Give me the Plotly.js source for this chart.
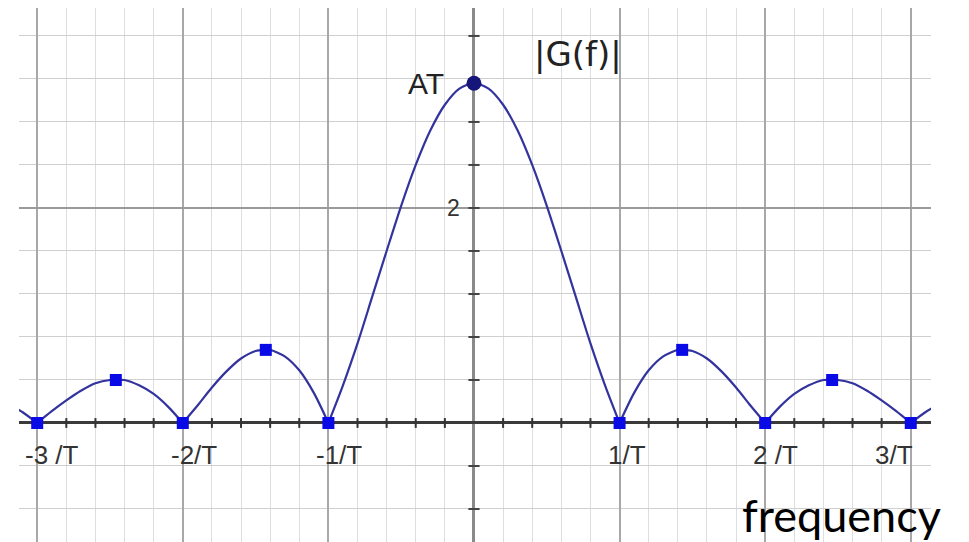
<!DOCTYPE html>
<html>
<head>
<meta charset="utf-8">
<script src="https://cdn.plot.ly/plotly-3.0.1.min.js"></script>
<style>
  html, body { margin: 0; padding: 0; background: #fff; }
  #graph { width: 969px; height: 542px; }
</style>
</head>
<body>
<div id="graph"></div>
<script>
// |G(f)|, lobe by lobe (null breaks the line at each zero)
const freq = [
  -3.15, -3.1, -3.0, null,
  -3.0, -2.9, -2.8, -2.7, -2.6, -2.5, -2.46, -2.4, -2.3, -2.2, -2.1, -2.0, null,
  -2.0, -1.9, -1.8, -1.7, -1.6, -1.5, -1.43, -1.4, -1.3, -1.2, -1.1, -1.0, null,
  -1.0, -0.9, -0.8, -0.7, -0.6, -0.5, -0.4, -0.3, -0.2, -0.1, 0, 0.1, 0.2, 0.3, 0.4, 0.5, 0.6, 0.7, 0.8, 0.9, 1.0, null,
  1.0, 1.1, 1.2, 1.3, 1.4, 1.43, 1.5, 1.6, 1.7, 1.8, 1.9, 2.0, null,
  2.0, 2.1, 2.2, 2.3, 2.4, 2.46, 2.5, 2.6, 2.7, 2.8, 2.9, 3.0, null,
  3.0, 3.1, 3.15
];
const gMag = [
  0.14, 0.10, 0, null,
  0, 0.11, 0.21, 0.30, 0.37, 0.40, 0.40, 0.40, 0.35, 0.27, 0.15, 0, null,
  0, 0.16, 0.33, 0.48, 0.60, 0.67, 0.68, 0.68, 0.62, 0.49, 0.28, 0, null,
  0, 0.35, 0.74, 1.17, 1.60, 2.02, 2.40, 2.72, 2.96, 3.11, 3.16, 3.11, 2.96, 2.72, 2.40, 2.02, 1.60, 1.17, 0.74, 0.35, 0, null,
  0, 0.28, 0.49, 0.62, 0.68, 0.68, 0.67, 0.60, 0.48, 0.33, 0.16, 0, null,
  0, 0.15, 0.27, 0.35, 0.40, 0.40, 0.40, 0.37, 0.30, 0.21, 0.11, 0, null,
  0, 0.10, 0.14
];

// square markers: zeros and side-lobe peaks
const markFreq = [-3, -2.46, -2, -1.43, -1, 1, 1.43, 2, 2.46, 3];
const markVal = [0, 0.40, 0, 0.68, 0, 0, 0.68, 0, 0.40, 0];

// main peak
const peakFreq = [0];
const peakVal = [3.16];

// x tick labels
const tickFreq = [-3, -2, -1, 1, 2, 3];
const tickText = ["-3 /T", "-2/T", "-1/T", "1/T", "2 /T", "3/T"];

// small tick marks sitting on the axes
let xMinor = [];
for (let i = -15; i <= 15; i++) { if (i !== 0) xMinor.push(i * 0.2); }
let yMinor = [];
for (let i = -2; i <= 9; i++) { if (i !== 0) yMinor.push(i * 0.4); }

let traces = [
    {
        x: xMinor, y: xMinor.map(() => 0),
        mode: "markers", type: "scatter", hoverinfo: "skip",
        marker: { symbol: "line-ns", size: 7, line: { color: "#333", width: 2 } }
    },
    {
        x: yMinor.map(() => 0), y: yMinor,
        mode: "markers", type: "scatter", hoverinfo: "skip",
        marker: { symbol: "line-ew", size: 8, line: { color: "#444", width: 2 } }
    },
    {
        x: freq, y: gMag,
        mode: "lines", type: "scatter", connectgaps: false,
        line: { color: "#33339e", width: 2.2, shape: "spline", smoothing: 0.8 }
    },
    {
        x: markFreq, y: markVal,
        mode: "markers", type: "scatter",
        marker: { symbol: "square", size: 12, color: "#0a0ae6" }
    },
    {
        x: peakFreq, y: peakVal,
        mode: "markers", type: "scatter",
        marker: { symbol: "circle", size: 15, color: "#15157a" }
    }
];

let annotations = tickFreq.map((f, i) => ({
    x: f, y: 0, xref: "x", yref: "y",
    text: tickText[i], showarrow: false,
    xanchor: f === 3 ? "right" : "left",
    xshift: f === 3 ? 4 : -14,
    yanchor: "middle", yshift: -32,
    font: { family: "Liberation Sans, Arial", size: 26, color: "#333" }
}));

annotations.push(
    {
        x: 0, y: 2, xref: "x", yref: "y", text: "2", showarrow: false,
        xanchor: "right", xshift: -12, yanchor: "middle",
        font: { family: "Liberation Sans, Arial", size: 23, color: "#333" }
    },
    {
        x: 0, y: peakVal[0], xref: "x", yref: "y", text: "AT", showarrow: false,
        xanchor: "right", xshift: -28, yanchor: "middle",
        font: { family: "Liberation Sans, Arial", size: 30, color: "#222" }
    },
    {
        x: 0.4, y: 3.43, xref: "x", yref: "y", text: "|G(f)|", showarrow: false,
        xanchor: "left", yanchor: "middle",
        font: { family: "DejaVu Sans", size: 34, color: "#222" }
    },
    {
        x: 1, y: 0, xref: "paper", yref: "paper", text: "frequency", showarrow: false,
        xanchor: "right", xshift: 12, yanchor: "bottom", yshift: -2,
        font: { family: "Lato, Noto Sans", size: 45, color: "#000" }
    }
);

let layout = {
    width: 969, height: 542,
    margin: { l: 19, r: 38, t: 8, b: 0 },
    paper_bgcolor: "#fff", plot_bgcolor: "#fff",
    showlegend: false,
    xaxis: {
        range: [-3.125, 3.139],
        tick0: 0, dtick: 1,
        showgrid: true, gridcolor: "#a8a8a8", gridwidth: 2,
        minor: { tick0: 0, dtick: 0.2, showgrid: true, gridcolor: "#dedede", gridwidth: 1 },
        zeroline: true, zerolinecolor: "#8a8a8a", zerolinewidth: 3,
        showticklabels: false, ticks: "", showline: false, fixedrange: true
    },
    yaxis: {
        range: [-1.107, 3.86],
        tick0: 0, dtick: 2,
        showgrid: true, gridcolor: "#9a9a9a", gridwidth: 1.5,
        minor: { tick0: 0, dtick: 0.4, showgrid: true, gridcolor: "#cfcfcf", gridwidth: 1 },
        zeroline: true, zerolinecolor: "#3a3a3a", zerolinewidth: 3,
        showticklabels: false, ticks: "", showline: false, fixedrange: true
    },
    annotations: annotations
};

Plotly.newPlot("graph", traces, layout, { displayModeBar: false, staticPlot: true });
</script>
</body>
</html>
